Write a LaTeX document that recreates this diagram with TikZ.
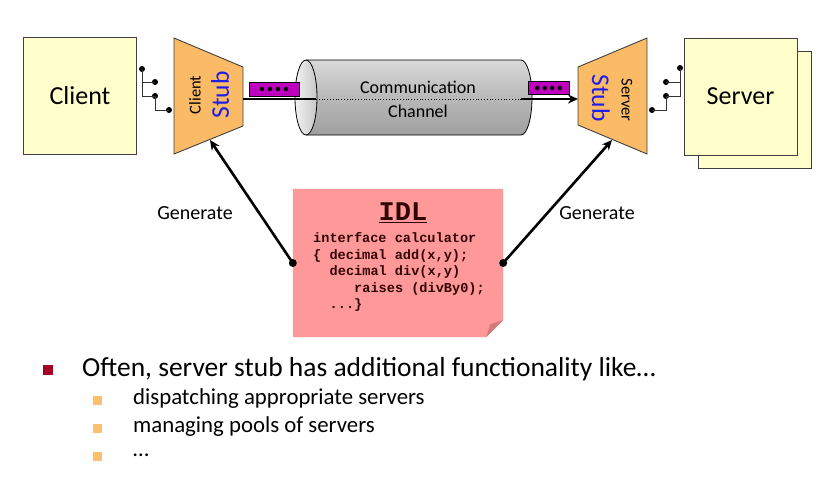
\documentclass[tikz,border=0pt]{standalone}
\usepackage{fontspec}
\setmainfont{Carlito}
\newfontfamily\monob{Liberation Mono}
\usetikzlibrary{arrows.meta,calc}
\definecolor{boxyellow}{RGB}{255,255,204}
\definecolor{stuborange}{RGB}{250,186,102}
\definecolor{msgpurple}{RGB}{190,0,190}
\definecolor{idlpink}{RGB}{255,153,153}
\definecolor{idlfold}{RGB}{215,120,120}
\definecolor{bulletred}{RGB}{165,0,33}
\definecolor{bulletorange}{RGB}{250,192,110}
\definecolor{stubblue}{RGB}{30,30,230}
\definecolor{codecol}{RGB}{50,5,5}
\begin{document}
\begin{tikzpicture}[x=1pt,y=1pt,
  appbox/.style={draw=black!75, line width=0.9pt, fill=boxyellow, minimum width=113pt, minimum height=117pt, inner sep=0pt},
  stubshape/.style={draw=black!75, line width=0.9pt, fill=stuborange},
  plug/.style={line width=0.8pt, black!80},
  pdot/.style={circle, fill=black, inner sep=0pt, minimum size=6pt},
  msgbox/.style={draw=black, line width=0.8pt, fill=msgpurple, minimum width=50pt, minimum height=14pt, inner sep=0pt},
  mdot/.style={circle, fill=black, inner sep=0pt, minimum size=4.5pt},
  bigarrow/.style={line width=2.6pt, -{Stealth[length=10pt,width=9pt]}},
  chanline/.style={line width=2.2pt},
  gen/.style={font=\fontsize{20}{22}\selectfont},
  code/.style={font=\monob\bfseries\fontsize{13.6}{16}\selectfont, text=codecol, anchor=base west, inner sep=0pt},
]
\useasboundingbox (0,0) rectangle (822,-491);

% ---------- Client ----------
\node[appbox] (client) at (80,-95.5) {\fontsize{26}{30}\selectfont Client};

% client stub
\draw[stubshape] (174,-38) -- (243,-67) -- (243,-126) -- (174,-154) -- cycle;
\coordinate (cstubout) at (243,-99);
\coordinate (cstubin) at (210,-140);
\node[rotate=90, font=\fontsize{16.5}{18}\selectfont] (cstubsmall) at (195,-95) {Client};
\node[rotate=90, font=\fontsize{25.5}{28}\selectfont, text=stubblue] (cstubbig) at (220,-95) {Stub};

% plugs client side
\node[pdot] (c1) at (142,-69) {};
\node[pdot] (c2) at (155,-82) {};
\node[pdot] (c3) at (155,-96) {};
\node[pdot] (c4) at (169,-110) {};
\draw[plug] (c1.center) |- (c2.center);
\draw[plug] (c1.center) |- (c3.center);
\draw[plug] (c3.center) |- (c4.center);

% ---------- Channel ----------
\shade[top color=gray!30, bottom color=gray!75, middle color=gray!55]
  (306,-60) -- (521,-60) arc[start angle=90, end angle=-90, x radius=11pt, y radius=37.5pt] -- (306,-135) -- cycle;
\draw[line width=0.8pt] (306,-60) -- (521,-60) arc[start angle=90, end angle=-90, x radius=11pt, y radius=37.5pt] -- (306,-135);
\shade[left color=gray!10, right color=gray!45] (306,-97.5) ellipse [x radius=11pt, y radius=37.5pt];
\draw[line width=0.8pt] (306,-97.5) ellipse [x radius=11pt, y radius=37.5pt];
\coordinate (chL) at (316,-99);
\coordinate (chR) at (532,-99);
\draw[line width=0.8pt, dotted] (chL) -- (521,-99);
\node[font=\fontsize{18}{20}\selectfont] (comm) at (418,-87) {Communication};
\node[font=\fontsize{18}{20}\selectfont] (chan) at (418,-111) {Channel};

\draw[chanline] (cstubout) -- (chL);
\coordinate (sstubin) at (578,-99);
\draw[bigarrow] (chR) -- (sstubin);
\draw[chanline] (521,-99) -- (chR);

% messages
\node[msgbox] (m1) at (274,-89) {};
\foreach \i in {-1.5,-0.5,0.5,1.5} \node[mdot] at ($(m1.center)+(\i*8,0)$) {};
\node[msgbox, minimum width=41pt, minimum height=13pt] (m2) at (548.5,-88) {};
\foreach \i in {-1.5,-0.5,0.5,1.5} \node[mdot] at ($(m2.center)+(\i*7.5,0)$) {};

% ---------- Server ----------
\node[appbox] (serverback) at (754.5,-110) {};
\node[appbox] (server) at (740.5,-96.5) {\fontsize{26}{30}\selectfont Server};

\draw[stubshape] (578,-67) -- (647,-38) -- (647,-154) -- (578,-125) -- cycle;
\coordinate (sstubin2) at (612,-140);
\node[rotate=-90, font=\fontsize{25.5}{28}\selectfont, text=stubblue] (sstubbig) at (601,-98) {Stub};
\node[rotate=-90, font=\fontsize{16.5}{18}\selectfont] (sstubsmall) at (627,-100) {Server};

\node[pdot] (s1) at (680,-68) {};
\node[pdot] (s2) at (666,-82) {};
\node[pdot] (s3) at (666,-96) {};
\node[pdot] (s4) at (652,-110) {};
\draw[plug] (s1.center) |- (s2.center);
\draw[plug] (s1.center) |- (s3.center);
\draw[plug] (s3.center) |- (s4.center);

% ---------- IDL ----------
\node[minimum width=210pt, minimum height=148pt, inner sep=0pt] (idl) at (398,-263) {};
\fill[idlpink] (idl.north west) -- (idl.north east) -- ($(idl.south east)+(0,17)$) -- ($(idl.south east)+(-17,0)$) -- (idl.south west) -- cycle;
\fill[idlfold] ($(idl.south east)+(0,17)$) -- ($(idl.south east)+(-17,0)$) -- ($(idl.south east)+(-13,13)$) -- cycle;
\node[font=\monob\bfseries\fontsize{27}{30}\selectfont, text=codecol] (idltitle) at (403,-213) {\underline{IDL}};
\node[code] (l1) at (313,-242.5) {interface calculator};
\node[code] (l2) at (313,-259) {\{ decimal add(x,y);};
\node[code] (l3) at (329.5,-275.5) {decimal div(x,y)};
\node[code] (l4) at (354,-292) {raises (divBy0);};
\node[code] (l5) at (329.5,-308.5) {...\}};

\node[pdot, minimum size=8pt] (idlL) at (idl.west) {};
\node[pdot, minimum size=8pt] (idlR) at (idl.east) {};
\draw[bigarrow] (idlL.center) -- (cstubin);
\draw[bigarrow] (idlR.center) -- (sstubin2);
\node[gen] (genL) at (195,-213) {Generate};
\node[gen] (genR) at (597,-213) {Generate};

% ---------- Bullets ----------
\node[fill=bulletred, minimum size=10pt, inner sep=0pt] (b0) at (48,-370) {};
\node[anchor=west, font=\fontsize{27.5}{30}\selectfont, inner sep=0pt] (t0) at (82,-369) {Often, server stub has additional functionality like…};
\node[fill=bulletorange, minimum size=9pt, inner sep=0pt] (b1) at (97.5,-400) {};
\node[anchor=west, font=\fontsize{22.8}{26}\selectfont, inner sep=0pt] (t1) at (133,-399) {dispatching appropriate servers};
\node[fill=bulletorange, minimum size=9pt, inner sep=0pt] (b2) at (97.5,-428) {};
\node[anchor=west, font=\fontsize{22.8}{26}\selectfont, inner sep=0pt] (t2) at (133,-427) {managing pools of servers};
\node[fill=bulletorange, minimum size=9pt, inner sep=0pt] (b3) at (97.5,-456) {};
\node[anchor=west, font=\fontsize{22.8}{26}\selectfont, inner sep=0pt] (t3) at (133,-455) {…};
\end{tikzpicture}
\end{document}
